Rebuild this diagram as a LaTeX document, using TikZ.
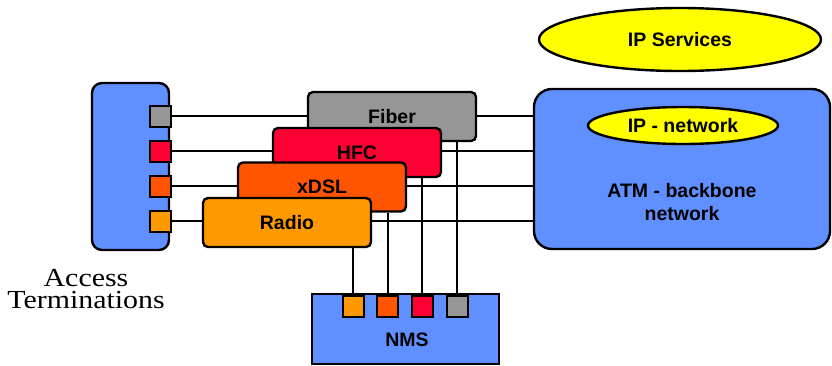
\documentclass[tikz,border=0pt]{standalone}
\usepackage{fontspec}
\setmainfont{Liberation Sans}
\newfontfamily\accserif[FakeStretch=1.15]{Liberation Serif}
\usetikzlibrary{shapes.geometric,backgrounds}
\definecolor{boxblue}{RGB}{96,144,255}
\definecolor{fibergray}{RGB}{150,150,150}
\definecolor{hfcred}{RGB}{255,0,51}
\definecolor{dslorange}{RGB}{255,85,0}
\definecolor{radioorange}{RGB}{255,153,0}
\definecolor{ipyellow}{RGB}{255,255,0}
\begin{document}
\begin{tikzpicture}[x=1pt,y=-1pt,
  lbl/.style={font=\fontsize{19.5}{23}\selectfont\bfseries},
  techbox/.style={draw, line width=2.4pt, rounded corners=5pt, minimum width=168pt, minimum height=49pt, inner sep=0pt, lbl},
  port/.style={draw, line width=2pt, minimum size=21pt, inner sep=0pt},
  link/.style={line width=2pt},
  ipell/.style={ellipse, draw, fill=ipyellow, line width=2.4pt, inner sep=0pt, lbl},
  bigbox/.style={draw, fill=boxblue, line width=2.4pt, inner sep=0pt},
  serifl/.style={font=\accserif\fontsize{26}{22}\selectfont, align=center, inner sep=0pt}
]
\useasboundingbox (0,0) rectangle (832,365);

% Access terminations
\node[bigbox, rounded corners=10pt, minimum width=77pt, minimum height=167pt] (acc) at (130.5,166.5) {};
\node[port, fill=fibergray]   (pF) at (160,116) {};
\node[port, fill=hfcred]      (pH) at (160,151) {};
\node[port, fill=dslorange]   (pD) at (160,186) {};
\node[port, fill=radioorange] (pR) at (160,221) {};
\node[serifl] (acclbl) at (86,289.5) {Access\\Terminations};

% ATM backbone
\node[bigbox, rounded corners=18pt, minimum width=296pt, minimum height=160pt] (atm) at (682,169) {};
\node[lbl, align=center] (atmlbl) at (682,202) {ATM - backbone\\network};
\node[ipell, minimum width=190pt, minimum height=37pt] (ipnet) at (683,125.5) {IP - network};
\node[ipell, minimum width=282pt, minimum height=63pt] (ipsrv) at (680,39.5) {IP Services};

% NMS
\node[bigbox, minimum width=187pt, minimum height=70pt] (nms) at (405.5,329) {};
\node[lbl] (nmslbl) at (407,340) {NMS};
\node[port, fill=radioorange] (nR) at (353,306) {};
\node[port, fill=dslorange]   (nD) at (387.5,306) {};
\node[port, fill=hfcred]      (nH) at (422,306) {};
\node[port, fill=fibergray]   (nF) at (457,306) {};

% Access technologies
\node[techbox, fill=fibergray]   (fiber) at (392,116.5) {Fiber};
\node[techbox, fill=hfcred]      (hfc)   at (357,152.5) {HFC};
\node[techbox, fill=dslorange]   (xdsl)  at (322,187) {xDSL};
\node[techbox, fill=radioorange] (radio) at (287,222.5) {Radio};

\begin{scope}[on background layer]
  \draw[link] (pF.east) -- (pF.east -| atm.west);
  \draw[link] (pH.east) -- (pH.east -| atm.west);
  \draw[link] (pD.east) -- (pD.east -| atm.west);
  \draw[link] (pR.east) -- (pR.east -| atm.west);
  \draw[link] (nF.north) -- (nF.north |- fiber.south);
  \draw[link] (nH.north) -- (nH.north |- hfc.south);
  \draw[link] (nD.north) -- (nD.north |- xdsl.south);
  \draw[link] (nR.north) -- (nR.north |- radio.south);
\end{scope}
\end{tikzpicture}
\end{document}
